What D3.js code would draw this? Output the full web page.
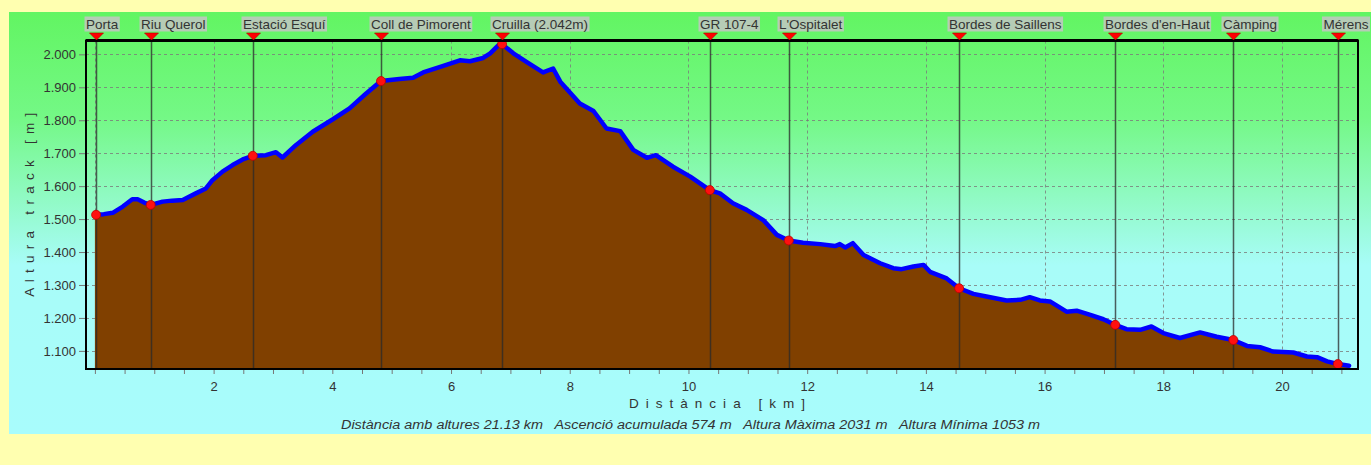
<!DOCTYPE html>
<html>
<head>
<meta charset="utf-8">
<script src="https://cdn.jsdelivr.net/npm/d3@7"></script>
<style>
  html, body { margin: 0; padding: 0; background: #FFFFB0; }
  svg { display: block; font-family: "Liberation Sans", Arial, sans-serif; }
</style>
</head>
<body>
<svg id="chart" width="1371" height="465"></svg>
<script>
// ---------------- DATA ----------------
const profileKm = [0.00,0.15,0.30,0.47,0.63,0.72,0.83,0.94,1.14,1.30,1.48,1.70,1.87,1.98,2.15,2.32,2.49,2.66,2.88,3.05,3.16,3.39,3.67,4.01,4.29,4.57,4.82,5.13,5.36,5.53,5.87,6.15,6.32,6.54,6.66,6.80,6.86,7.05,7.27,7.55,7.72,7.84,8.17,8.40,8.62,8.85,9.07,9.30,9.45,9.74,10.03,10.36,10.53,10.75,10.98,11.26,11.49,11.69,11.93,12.22,12.47,12.55,12.64,12.77,12.95,13.23,13.45,13.59,13.79,13.96,14.07,14.35,14.56,14.80,15.02,15.36,15.59,15.75,15.92,16.09,16.37,16.54,16.77,16.99,17.19,17.38,17.61,17.80,18.00,18.28,18.62,18.90,19.18,19.41,19.63,19.85,20.19,20.42,20.59,20.76,20.94,21.13];
const profileElev = [1513,1515,1519,1538,1560,1560,1550,1543,1553,1556,1558,1578,1593,1618,1644,1664,1681,1692,1694,1703,1687,1725,1765,1803,1836,1881,1919,1925,1929,1945,1965,1982,1979,1989,2003,2028,2031,2003,1977,1945,1957,1917,1851,1828,1775,1767,1710,1686,1694,1659,1629,1588,1578,1548,1528,1497,1452,1435,1428,1424,1418,1424,1414,1427,1391,1366,1351,1348,1356,1361,1340,1320,1290,1273,1265,1253,1255,1263,1253,1250,1219,1222,1209,1196,1179,1166,1164,1174,1154,1139,1156,1143,1133,1115,1111,1098,1095,1083,1081,1068,1060,1055];

const waypointNames = ["Porta","Riu Querol","Estació Esquí","Coll de Pimorent","Cruilla (2.042m)","GR 107-4","L'Ospitalet","Bordes de Saillens","Bordes d'en-Haut","Càmping","Mérens"];
const waypointKm = [0.02,0.94,2.66,4.82,6.86,10.36,11.69,14.56,17.19,19.18,20.94];
const waypointElev = [1513,1543,1692,1919,2031,1588,1435,1290,1179,1133,1060];

const xTickLabels = [2,4,6,8,10,12,14,16,18,20];
const xMinorTicks = d3.range(0, 21.01, 0.5);
const yTickValues = [1100,1200,1300,1400,1500,1600,1700,1800,1900,2000];
const xGridValues = [0,2,4,6,8,10,12,14,16,18,20];

const yTitle = "A l t u r a   t r a c k   [ m ]";
const xTitle = "D i s t à n c i a   [ k m ]";
const infoText = "Distància amb altures 21.13 km   Ascenció acumulada 574 m   Altura Màxima 2031 m   Altura Mínima 1053 m";

// ---------------- LAYOUT ----------------
const W = 1371, H = 465;
const plot = { left: 86, right: 1358, top: 40.5, bottom: 369 };
const svg = d3.select("#chart");

const x = d3.scaleLinear().domain([-0.15, 21.28]).range([plot.left, plot.right]);
const y = d3.scaleLinear().domain([1045, 2042]).range([plot.bottom, plot.top]);

const fmt = d3.formatLocale({decimal: ",", thousands: ".", grouping: [3], currency: ["", ""]}).format(",");

// background
const defs = svg.append("defs");
const grad = defs.append("linearGradient").attr("id", "bg").attr("x1", 0).attr("y1", 0).attr("x2", 0).attr("y2", 1);
grad.append("stop").attr("offset", "0%").attr("stop-color", "#62F562");
grad.append("stop").attr("offset", "25%").attr("stop-color", "#74F886");
grad.append("stop").attr("offset", "60%").attr("stop-color", "#A8FCF8");
grad.append("stop").attr("offset", "100%").attr("stop-color", "#A8FCFC");

svg.append("rect").attr("x", 0).attr("y", 0).attr("width", W).attr("height", H).attr("fill", "#FFFFB0");
svg.append("rect").attr("x", 9).attr("y", 12).attr("width", W - 9).attr("height", 422).attr("fill", "url(#bg)");

// grid
const grid = svg.append("g").attr("stroke", "#7a7a7a").attr("stroke-opacity", 0.8).attr("stroke-width", 1).attr("stroke-dasharray", "3,3");
grid.selectAll("line.h").data(yTickValues).join("line")
  .attr("x1", plot.left).attr("x2", plot.right)
  .attr("y1", d => Math.round(y(d)) + 0.5).attr("y2", d => Math.round(y(d)) + 0.5);
grid.selectAll("line.v").data(xGridValues).join("line")
  .attr("y1", plot.top).attr("y2", plot.bottom)
  .attr("x1", d => Math.round(x(d)) + 0.5).attr("x2", d => Math.round(x(d)) + 0.5);

// profile
const pts = profileKm.map((k, i) => [k, profileElev[i]]);
const area = d3.area().x(d => x(d[0])).y0(plot.bottom).y1(d => y(d[1]));
const line = d3.line().x(d => x(d[0])).y(d => y(d[1]));
svg.append("path").datum(pts).attr("d", area).attr("fill", "#804000");

// waypoint vertical lines
const wp = waypointNames.map((n, i) => ({name: n, km: waypointKm[i], elev: waypointElev[i]}));
svg.append("g").selectAll("line").data(wp).join("line")
  .attr("x1", d => Math.round(x(d.km)) + 0.5).attr("x2", d => Math.round(x(d.km)) + 0.5)
  .attr("y1", plot.top).attr("y2", plot.bottom)
  .attr("stroke", "#2a2a2a").attr("stroke-opacity", 0.75).attr("stroke-width", 1.5);

svg.append("path").datum(pts).attr("d", line).attr("fill", "none")
  .attr("stroke", "#0000FF").attr("stroke-width", 4.5).attr("stroke-linejoin", "round").attr("stroke-linecap", "round");

// waypoint dots
svg.append("g").selectAll("circle").data(wp).join("circle")
  .attr("cx", d => x(d.km)).attr("cy", d => y(d.elev)).attr("r", 4.5)
  .attr("fill", "#FF1010").attr("stroke", "#C00000").attr("stroke-width", 0.8);

// frame
svg.append("rect").attr("x", plot.left).attr("y", plot.top).attr("width", plot.right - plot.left).attr("height", plot.bottom - plot.top)
  .attr("fill", "none").attr("stroke", "#000").attr("stroke-width", 2);
svg.append("line").attr("x1", plot.left).attr("x2", plot.right).attr("y1", plot.top).attr("y2", plot.top)
  .attr("stroke", "#000").attr("stroke-width", 3);

// y axis
const yAxis = d3.axisLeft(y).tickValues(yTickValues).tickSize(6).tickPadding(3).tickFormat(fmt);
const gy = svg.append("g").attr("transform", `translate(${plot.left - 1},0)`).call(yAxis);
gy.select(".domain").remove();
gy.selectAll(".tick line").attr("stroke", "#777");
gy.selectAll(".tick text").attr("fill", "#333").attr("font-size", 13).attr("font-family", "'Liberation Sans', Arial, sans-serif");

// x axis
const xAxisMinor = d3.axisBottom(x).tickValues(xMinorTicks).tickSize(4).tickFormat("");
const gxm = svg.append("g").attr("transform", `translate(0,${plot.bottom + 1})`).call(xAxisMinor);
gxm.select(".domain").remove();
gxm.selectAll(".tick line").attr("stroke", "#777");
const xAxis = d3.axisBottom(x).tickValues(xTickLabels).tickSize(0).tickPadding(12).tickFormat(d3.format("d"));
const gx = svg.append("g").attr("transform", `translate(0,${plot.bottom + 1})`).call(xAxis);
gx.select(".domain").remove();
gx.selectAll(".tick text").attr("fill", "#333").attr("font-size", 13).attr("font-family", "'Liberation Sans', Arial, sans-serif");

// axis titles
svg.append("text").attr("transform", `translate(34,${(plot.top + plot.bottom) / 2}) rotate(-90)`)
  .attr("text-anchor", "middle").attr("font-size", 13.5).attr("fill", "#333")
  .attr("textLength", 184).attr("lengthAdjust", "spacing").style("white-space", "pre").text(yTitle);
svg.append("text").attr("x", 717).attr("y", 408)
  .attr("text-anchor", "middle").attr("font-size", 13.5).attr("fill", "#333")
  .attr("textLength", 176).attr("lengthAdjust", "spacing").style("white-space", "pre").text(xTitle);

svg.append("text").attr("x", 341).attr("y", 429)
  .attr("font-size", 12).attr("font-style", "italic").attr("fill", "#333")
  .attr("textLength", 699).attr("lengthAdjust", "spacingAndGlyphs").style("white-space", "pre").text(infoText);

// waypoint markers on top
svg.append("g").selectAll("path").data(wp).join("path")
  .attr("d", "M-7,0 L7,0 L0,7 Z")
  .attr("transform", d => `translate(${Math.round(x(d.km)) + 0.5},${33})`)
  .attr("fill", "#FF0000").attr("stroke", "#B00000").attr("stroke-width", 0.6);

const lab = svg.append("g").selectAll("g").data(wp).join("g");
lab.append("rect").attr("x", 0).attr("y", 0).attr("height", 15)
  .attr("fill", "#C4C4C4").attr("fill-opacity", 0.85);
const texts = lab.append("text").attr("x", 1.5).attr("y", 12).attr("font-size", 13.5).attr("fill", "#333").text(d => d.name);
texts.each(function(d) {
  const w = this.getComputedTextLength();
  const g = d3.select(this.parentNode);
  g.select("rect").attr("width", w + 3);
  const left = Math.min(Math.round(x(d.km)) - 11.5, W - 1 - (w + 3));
  g.attr("transform", `translate(${left},16.5)`);
});
</script>
</body>
</html>
